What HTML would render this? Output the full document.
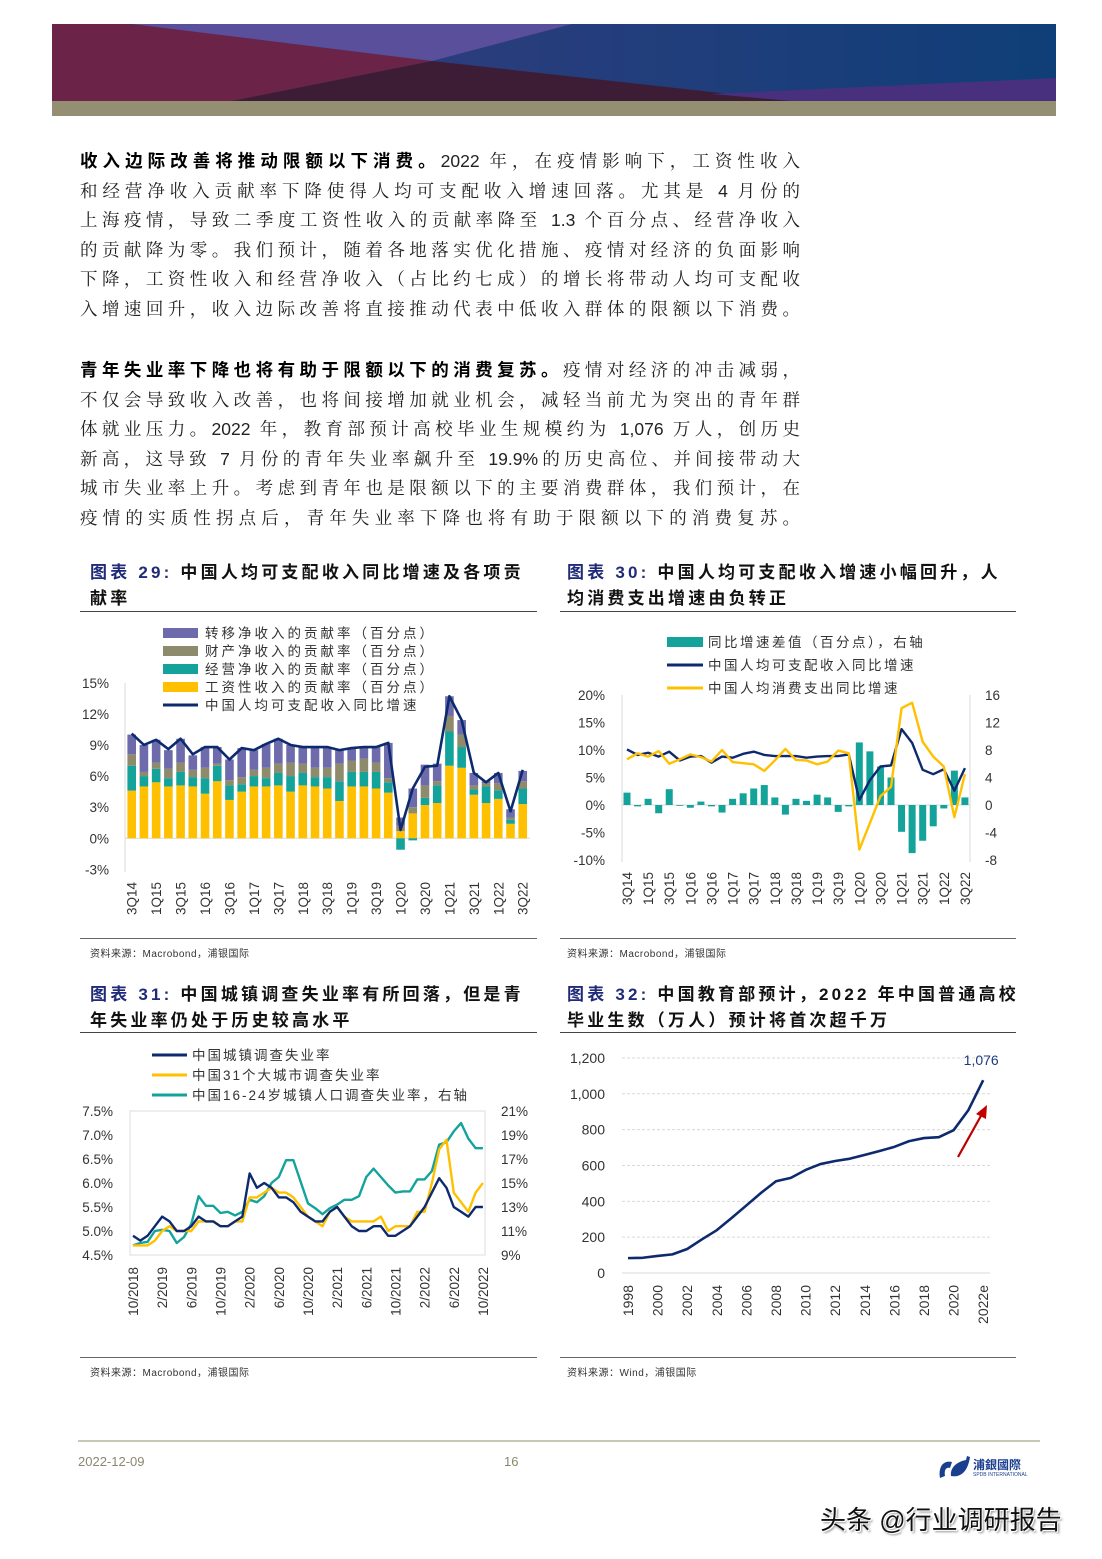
<!DOCTYPE html>
<html><head><meta charset="utf-8">
<style>
body{margin:0;background:#fff;}
#page{position:relative;width:1102px;height:1559px;overflow:hidden;background:#fff;font-family:"Liberation Sans","Noto Sans CJK SC",sans-serif;}
.abs{position:absolute;}
.p{position:absolute;left:80px;width:720px;font-size:17.5px;color:#222;line-height:30px;font-family:"Liberation Sans","Noto Serif CJK SC","Noto Sans CJK SC",serif;}
.ln{height:29.5px;text-align:justify;text-align-last:justify;white-space:nowrap;}
.ln b{font-family:"Liberation Sans","Noto Sans CJK SC",sans-serif;font-weight:bold;color:#000;}
.ttl{position:absolute;font-size:17px;font-weight:bold;color:#111;line-height:26px;letter-spacing:3.2px;white-space:nowrap;font-family:"Liberation Sans","Noto Sans CJK SC",sans-serif;}
.ttl span{color:#1f2a78;}
.rule{position:absolute;height:1px;background:#444;}
.src{position:absolute;font-size:10px;color:#333;letter-spacing:0.5px;}
svg text{font-family:"Liberation Sans","Noto Sans CJK SC",sans-serif;}
</style></head>
<body>
<div id="page">
<svg class="abs" style="left:52px;top:24px" width="1004" height="92">
  <defs><linearGradient id="gb" x1="0" x2="1"><stop offset="0" stop-color="#3d3b80"/><stop offset="1" stop-color="#0f3f78"/></linearGradient></defs>
  <rect x="0" y="0" width="1004" height="77" fill="url(#gb)"/>
  <polygon points="0,0 80,0 380,37 180,77 0,77" fill="#6b2448"/>
  <polygon points="80,0 520,0 380,37" fill="#5a4f9a"/>
  <polygon points="380,37 180,77 740,77" fill="#3c1d35"/>
  <polygon points="660,70 1004,54 1004,77 740,77" fill="#48307e"/>
  <rect x="0" y="77" width="1004" height="15" fill="#948f72"/>
</svg>

<div class="p" style="top:146px">
<div class="ln"><b>收入边际改善将推动限额以下消费。</b>2022 年，在疫情影响下，工资性收入</div>
<div class="ln">和经营净收入贡献率下降使得人均可支配收入增速回落。尤其是 4 月份的</div>
<div class="ln">上海疫情，导致二季度工资性收入的贡献率降至 1.3 个百分点、经营净收入</div>
<div class="ln">的贡献降为零。我们预计，随着各地落实优化措施、疫情对经济的负面影响</div>
<div class="ln">下降，工资性收入和经营净收入（占比约七成）的增长将带动人均可支配收</div>
<div class="ln">入增速回升，收入边际改善将直接推动代表中低收入群体的限额以下消费。</div>
</div>
<div class="p" style="top:355px">
<div class="ln"><b>青年失业率下降也将有助于限额以下的消费复苏。</b>疫情对经济的冲击减弱，</div>
<div class="ln">不仅会导致收入改善，也将间接增加就业机会，减轻当前尤为突出的青年群</div>
<div class="ln">体就业压力。2022 年，教育部预计高校毕业生规模约为 1,076 万人，创历史</div>
<div class="ln">新高，这导致 7 月份的青年失业率飙升至 19.9%的历史高位、并间接带动大</div>
<div class="ln">城市失业率上升。考虑到青年也是限额以下的主要消费群体，我们预计，在</div>
<div class="ln">疫情的实质性拐点后，青年失业率下降也将有助于限额以下的消费复苏。</div>
</div>

<div class="ttl" style="left:90px;top:560px"><span>图表 29:</span> 中国人均可支配收入同比增速及各项贡<br>献率</div>
<div class="rule" style="left:80px;top:611px;width:457px"></div>
<div class="ttl" style="left:567px;top:560px"><span>图表 30:</span> 中国人均可支配收入增速小幅回升，人<br>均消费支出增速由负转正</div>
<div class="rule" style="left:560px;top:611px;width:456px"></div>
<div class="rule" style="left:80px;top:938px;width:457px;background:#666"></div>
<div class="rule" style="left:560px;top:938px;width:456px;background:#666"></div>
<div class="src" style="left:90px;top:945px">资料来源：Macrobond，浦银国际</div>
<div class="src" style="left:567px;top:945px">资料来源：Macrobond，浦银国际</div>

<div class="ttl" style="left:90px;top:982px"><span>图表 31:</span> 中国城镇调查失业率有所回落，但是青<br>年失业率仍处于历史较高水平</div>
<div class="rule" style="left:80px;top:1032px;width:457px"></div>
<div class="ttl" style="left:567px;top:982px"><span>图表 32:</span> 中国教育部预计，2022 年中国普通高校<br>毕业生数（万人）预计将首次超千万</div>
<div class="rule" style="left:560px;top:1032px;width:456px"></div>
<div class="rule" style="left:80px;top:1357px;width:457px;background:#666"></div>
<div class="rule" style="left:560px;top:1357px;width:456px;background:#666"></div>
<div class="src" style="left:90px;top:1364px">资料来源：Macrobond，浦银国际</div>
<div class="src" style="left:567px;top:1364px">资料来源：Wind，浦银国际</div>

<div class="abs" style="left:78px;top:1440px;width:962px;height:2px;background:#c9c8b6"></div>
<div class="abs" style="left:78px;top:1454px;font-size:13px;color:#8a8770">2022-12-09</div>
<div class="abs" style="left:504px;top:1454px;font-size:13px;color:#8a8770">16</div>
<div class="abs" style="left:936px;top:1454px;width:100px;height:30px">
  <svg width="36" height="30" style="position:absolute;left:0;top:0"><path d="M4 24 C2 12,8 6,16 8 L14 14 C10 13,8 16,9 22 Z" fill="#1b3f8f"/><path d="M15 22 C14 14,20 8,30 6 L31 2 L34 3 C32 16,26 24,15 22 Z" fill="#1b3f8f"/></svg>
  <div style="position:absolute;left:37px;top:2px;font-size:12px;font-weight:bold;color:#1b3f8f">浦銀國際</div>
  <div style="position:absolute;left:37px;top:18px;font-size:5px;color:#1b3f8f">SPDB INTERNATIONAL</div>
</div>
<div class="abs" style="left:820px;top:1500px;font-size:26px;color:#111;text-shadow:1px 1px 0 #fff,-1px -1px 0 #fff,2px 2px 2px #888">头条 @行业调研报告</div>

<svg id="chart" class="abs" style="left:0;top:0" width="1102" height="1559"></svg>
</div>

<script>
// ===== Chart 29 data =====
const c29Cats = ["3Q14","4Q14","1Q15","2Q15","3Q15","4Q15","1Q16","2Q16","3Q16","4Q16","1Q17","2Q17","3Q17","4Q17","1Q18","2Q18","3Q18","4Q18","1Q19","2Q19","3Q19","4Q19","1Q20","2Q20","3Q20","4Q20","1Q21","2Q21","3Q21","4Q21","1Q22","2Q22","3Q22"];
const c29Wage = [4.6,5.0,5.4,5.0,5.1,5.0,4.3,5.5,3.7,4.5,5.0,5.0,5.1,4.5,5.1,5.0,4.8,3.6,5.0,5.0,4.8,4.4,0.7,2.4,3.2,3.4,7.0,6.8,4.2,3.4,3.8,1.4,3.3];
const c29Biz = [2.4,1.0,1.3,0.8,1.3,0.9,1.5,1.5,1.4,0.7,1.0,0.8,1.2,1.5,1.2,0.9,1.1,1.9,1.4,1.4,1.6,1.0,-1.1,-0.2,0.7,1.7,3.3,2.0,0.5,1.6,0.8,0.4,1.5];
const c29Prop = [1.1,0.4,0.6,0.9,0.9,0.7,1.0,0.2,0.5,0.7,0.6,1.0,0.9,1.3,0.9,0.9,0.9,1.7,1.1,1.3,0.9,0.4,0.5,0.6,1.2,0.4,1.5,1.2,0.4,0.3,0.7,0.2,0.7];
const c29Trans = [1.9,2.6,2.2,1.8,2.3,1.4,2.0,1.6,2.0,2.8,1.9,2.3,2.4,1.7,1.6,2.0,2.0,1.3,1.2,1.1,1.5,3.4,0.8,1.8,2.0,1.7,1.9,1.4,1.2,0.2,1.0,0.8,1.0];
const c29Total = [10.1,9.0,9.5,8.6,9.6,8.1,8.8,8.8,7.6,8.7,8.5,9.1,9.6,9.0,8.8,8.8,8.8,8.5,8.7,8.8,8.8,9.2,0.8,4.8,6.9,7.0,13.7,11.4,6.3,5.4,6.3,2.6,6.6];
const c29Ticks = [-3,0,3,6,9,12,15];
// ===== Chart 30 data =====
const c30Diff = [1.8,-0.2,0.9,-1.2,2.3,-0.1,-0.4,0.5,-0.2,-1.1,0.9,1.7,2.4,2.9,1.1,-1.4,0.9,0.6,1.5,1.1,-1.0,-0.2,9.1,7.8,5.6,4.0,-3.9,-7.0,-5.2,-3.1,-0.5,5.0,1.1];
const c30Income = [10.1,9.1,9.5,8.8,9.7,8.1,8.8,8.9,7.7,8.8,8.6,9.3,9.7,9.1,8.9,8.9,8.9,8.6,8.8,8.9,8.9,9.2,0.9,4.5,7.0,7.2,13.8,11.3,6.4,5.6,6.5,2.6,6.7];
const c30Cons = [8.3,9.4,8.8,9.8,7.5,8.3,9.2,8.7,7.9,10.0,7.8,7.6,7.4,6.2,8.1,10.2,8.2,8.1,7.4,7.9,9.9,9.4,-8.1,-3.3,1.6,3.3,17.6,18.6,11.5,8.8,7.0,-2.2,5.6];
const c30LTicks = [-10,-5,0,5,10,15,20];
const c30RTicks = [-8,-4,0,4,8,12,16];
// ===== Chart 31 data =====
const c31Months = ["10/2018","11/2018","12/2018","1/2019","2/2019","3/2019","4/2019","5/2019","6/2019","7/2019","8/2019","9/2019","10/2019","11/2019","12/2019","1/2020","2/2020","3/2020","4/2020","5/2020","6/2020","7/2020","8/2020","9/2020","10/2020","11/2020","12/2020","1/2021","2/2021","3/2021","4/2021","5/2021","6/2021","7/2021","8/2021","9/2021","10/2021","11/2021","12/2021","1/2022","2/2022","3/2022","4/2022","5/2022","6/2022","7/2022","8/2022","9/2022","10/2022"];
const c31Urban = [4.9,4.8,4.9,5.1,5.3,5.2,5.0,5.0,5.1,5.3,5.2,5.2,5.1,5.1,5.2,5.3,6.2,5.9,6.0,5.9,5.7,5.7,5.6,5.4,5.3,5.2,5.2,5.4,5.5,5.3,5.1,5.0,5.0,5.1,5.1,4.9,4.9,5.0,5.1,5.3,5.5,5.8,6.1,5.9,5.5,5.4,5.3,5.5,5.5];
const c31Cities = [4.7,4.7,4.7,4.8,5.0,5.1,5.0,5.0,5.0,5.2,5.2,5.2,5.1,5.1,5.2,5.2,5.7,5.7,5.8,5.9,5.8,5.8,5.7,5.5,5.3,5.2,5.1,5.4,5.5,5.3,5.2,5.2,5.2,5.2,5.3,5.0,5.1,5.1,5.1,5.4,5.4,6.0,6.7,6.9,5.8,5.6,5.4,5.8,6.0];
const c31Youth = [9.8,10.0,10.1,11.0,11.1,11.0,10.0,10.5,11.6,13.9,13.1,13.1,12.5,12.6,12.3,12.6,13.6,13.4,13.9,15.0,15.5,16.9,16.9,15.1,13.3,12.9,12.4,12.9,13.2,13.6,13.6,13.9,15.5,16.2,15.5,14.8,14.2,14.3,14.3,15.3,15.3,16.0,18.2,18.4,19.3,20.0,18.7,17.9,17.9];
const c31LTicks = [4.5,5.0,5.5,6.0,6.5,7.0,7.5];
const c31RTicks = [9,11,13,15,17,19,21];
// ===== Chart 32 data =====
const c32Years = ["1998","1999","2000","2001","2002","2003","2004","2005","2006","2007","2008","2009","2010","2011","2012","2013","2014","2015","2016","2017","2018","2019","2020","2021","2022e"];
const c32Grads = [83,85,95,104,134,188,239,307,377,448,512,531,575,608,625,638,659,681,704,736,753,758,797,909,1076];
const c32Ticks = [0,200,400,600,800,1000,1200];

const NS="http://www.w3.org/2000/svg";
const svg=document.getElementById('chart');
function mk(tag,attrs,parent){const e=document.createElementNS(NS,tag);for(const k in attrs)e.setAttribute(k,attrs[k]);(parent||svg).appendChild(e);return e;}
function txt(s,attrs,parent){const e=mk('text',attrs,parent);e.textContent=s;return e;}
function grp(name){const g=mk('g',{});


return g;}
const NAVY="#0e2a6e",YEL="#ffc000",TEAL="#13a39b",OLIVE="#8e8b6c",PURP="#6d6bab";

// ===== Chart 29 =====
(function(){
 const g=grp('chart29');
 const x=i=>131.7+i*12.22, y=v=>838.3-v*10.37;
 mk('line',{x1:125,y1:683,x2:125,y2:872,stroke:'#d9d9d9'},g);
 mk('line',{x1:125,y1:y(0),x2:530,y2:y(0),stroke:'#d9d9d9'},g);
 c29Ticks.forEach(t=>{const l=txt(t+'%',{x:109,y:y(t)+5,'text-anchor':'end','font-size':13.5,fill:'#333'},g);
 
 });
 const series=[[c29Wage,YEL],[c29Biz,TEAL],[c29Prop,OLIVE],[c29Trans,PURP]];
 c29Cats.forEach((c,i)=>{
  let pos=0,neg=0;
  series.forEach(([arr,col])=>{const v=arr[i];let y0,y1;
   if(v>=0){y0=pos;y1=pos+v;pos=y1;}else{y0=neg;y1=neg+v;neg=y1;}
   const r=mk('rect',{x:x(i)-4.3,y:Math.min(y(y0),y(y1)),width:8.6,height:Math.abs(y(y0)-y(y1)),fill:col},g);
   
   
  });
  if(i%2===0){const l=txt(c,{x:0,y:0,'text-anchor':'end','font-size':13.5,fill:'#333',transform:`translate(${x(i)+5},882) rotate(-90)`},g);
  
  }
 });
 const pl=mk('polyline',{points:c29Total.map((v,i)=>x(i)+','+y(v)).join(' '),fill:'none',stroke:NAVY,'stroke-width':2.6,'stroke-linejoin':'round'},g);
 
 
 const leg=[['转移净收入的贡献率（百分点）',PURP,'r'],['财产净收入的贡献率（百分点）',OLIVE,'r'],['经营净收入的贡献率（百分点）',TEAL,'r'],['工资性收入的贡献率（百分点）',YEL,'r'],['中国人均可支配收入同比增速',NAVY,'l']];
 leg.forEach((L,k)=>{const yy=633+k*18;
  if(L[2]==='r')mk('rect',{x:163,y:yy-5,width:35,height:10,fill:L[1]},g);else mk('line',{x1:163,y1:yy,x2:198,y2:yy,stroke:L[1],'stroke-width':3},g);
  const t=txt(L[0],{x:205,y:yy+5,'font-size':13.5,'letter-spacing':3,fill:'#333'},g);
  
  
 });
})();

// ===== Chart 30 =====
(function(){
 const g=grp('chart30');
 const x=i=>627+i*10.56, yL=v=>805-v*5.5, yR=v=>805-v*6.875;
 mk('line',{x1:622,y1:695,x2:622,y2:862,stroke:'#d9d9d9'},g);
 mk('line',{x1:970,y1:695,x2:970,y2:862,stroke:'#d9d9d9'},g);
 mk('line',{x1:622,y1:805,x2:970,y2:805,stroke:'#d9d9d9'},g);
 c30LTicks.forEach(t=>{const l=txt(t+'%',{x:605,y:yL(t)+5,'text-anchor':'end','font-size':13.5,fill:'#333'},g);
 
 });
 c30RTicks.forEach(t=>{const l=txt(String(t),{x:985,y:yR(t)+5,'font-size':13.5,fill:'#333'},g);
 
 });
 c29Cats.forEach((c,i)=>{const v=c30Diff[i];
  const r=mk('rect',{x:x(i)-3.5,y:Math.min(yR(0),yR(v)),width:7,height:Math.max(0.8,Math.abs(yR(v)-yR(0))),fill:TEAL},g);
  
  
  if(i%2===0){const l=txt(c,{x:0,y:0,'text-anchor':'end','font-size':13.5,fill:'#333',transform:`translate(${x(i)+5},872) rotate(-90)`},g);
  
  }
 });
 const a=mk('polyline',{points:c30Income.map((v,i)=>x(i)+','+yL(v)).join(' '),fill:'none',stroke:NAVY,'stroke-width':2.4,'stroke-linejoin':'round'},g);
 
 
 const b=mk('polyline',{points:c30Cons.map((v,i)=>x(i)+','+yL(v)).join(' '),fill:'none',stroke:YEL,'stroke-width':2.4,'stroke-linejoin':'round'},g);
 
 
 const leg=[['同比增速差值（百分点），右轴',TEAL,'r'],['中国人均可支配收入同比增速',NAVY,'l'],['中国人均消费支出同比增速',YEL,'l']];
 leg.forEach((L,k)=>{const yy=642+k*23;
  if(L[2]==='r')mk('rect',{x:667,y:yy-5,width:36,height:10,fill:L[1]},g);else mk('line',{x1:667,y1:yy,x2:703,y2:yy,stroke:L[1],'stroke-width':3},g);
  const t=txt(L[0],{x:708,y:yy+5,'font-size':13.5,'letter-spacing':2.5,fill:'#333'},g);
  
  
 });
})();

// ===== Chart 31 =====
(function(){
 const g=grp('chart31');
 const x=i=>133+i*7.29, yL=v=>1111+(7.5-v)*48, yR=v=>1111+(21-v)*12;
 mk('rect',{x:130,y:1111,width:355,height:144,fill:'none',stroke:'#dedede'},g);
 c31LTicks.forEach(t=>{const l=txt(t.toFixed(1)+'%',{x:113,y:yL(t)+5,'text-anchor':'end','font-size':13.5,fill:'#333'},g);
 
 });
 c31RTicks.forEach(t=>{const l=txt(t+'%',{x:501,y:yR(t)+5,'font-size':13.5,fill:'#333'},g);
 
 });
 c31Months.forEach((m,i)=>{if(i%4===0){const l=txt(m,{x:0,y:0,'text-anchor':'end','font-size':13.5,fill:'#333',transform:`translate(${x(i)+5},1267) rotate(-90)`},g);
 
 }});
 const s1=mk('polyline',{points:c31Youth.map((v,i)=>x(i)+','+yR(v)).join(' '),fill:'none',stroke:TEAL,'stroke-width':2.4,'stroke-linejoin':'round'},g);
 
 
 const s2=mk('polyline',{points:c31Cities.map((v,i)=>x(i)+','+yL(v)).join(' '),fill:'none',stroke:YEL,'stroke-width':2.4,'stroke-linejoin':'round'},g);
 
 
 const s3=mk('polyline',{points:c31Urban.map((v,i)=>x(i)+','+yL(v)).join(' '),fill:'none',stroke:NAVY,'stroke-width':2.4,'stroke-linejoin':'round'},g);
 
 
 const leg=[['中国城镇调查失业率',NAVY],['中国31个大城市调查失业率',YEL],['中国16-24岁城镇人口调查失业率，右轴',TEAL]];
 leg.forEach((L,k)=>{const yy=1055+k*20;
  mk('line',{x1:152,y1:yy,x2:187,y2:yy,stroke:L[1],'stroke-width':3},g);
  const t=txt(L[0],{x:192,y:yy+5,'font-size':13.5,'letter-spacing':2,fill:'#333'},g);
  
  
 });
})();

// ===== Chart 32 =====
(function(){
 const g=grp('chart32');
 const x=i=>628+i*14.8, y=v=>1273-v*0.1792;
 c32Ticks.forEach(t=>{
  mk('line',{x1:622,y1:y(t),x2:990,y2:y(t),stroke:'#d9d9d9','stroke-dasharray':t===0?'':'3,2'},g);
  const l=txt(t.toLocaleString('en-US'),{x:605,y:y(t)+5,'text-anchor':'end','font-size':14,fill:'#333'},g);
  
  
 });
 c32Years.forEach((yr,i)=>{if(i%2===0){const l=txt(yr,{x:0,y:0,'text-anchor':'end','font-size':14,fill:'#333',transform:`translate(${x(i)+5},1285) rotate(-90)`},g);
 
 }});
 const pl=mk('polyline',{points:c32Grads.map((v,i)=>x(i)+','+y(v)).join(' '),fill:'none',stroke:NAVY,'stroke-width':2.6,'stroke-linejoin':'round'},g);
 
 
 const n=c32Grads.length-1;
 const lab=txt(c32Grads[n].toLocaleString('en-US'),{x:x(n)-2,y:y(c32Grads[n])-15,'text-anchor':'middle','font-size':14,fill:'#1f3a80'},g);
 
 
 mk('line',{x1:958,y1:1157,x2:982,y2:1114,stroke:'#c00000','stroke-width':2.2},g);
 const ar=mk('polygon',{points:'987,1105 976,1114 986,1119',fill:'#c00000'},g);
 
 
})();
</script>
</body></html>
